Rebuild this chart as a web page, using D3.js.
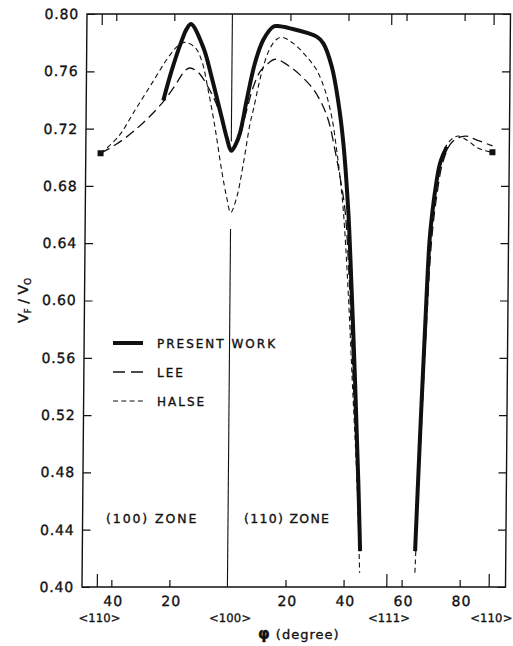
<!DOCTYPE html>
<html>
<head>
<meta charset="utf-8">
<script src="https://cdn.jsdelivr.net/npm/d3@7"></script>
<style>
  body { margin: 0; background: #fff; }
  svg { display: block; }
  svg text { font-family: 'DejaVu Sans', sans-serif; fill: #111; stroke: #111; stroke-width: 0.35px; }
  .axis line { stroke: #111; stroke-width: 1.2; }
</style>
</head>
<body>
<div id="chart"></div>
<script>
// phi in degrees along the axis: negative = (100) zone, measured from <100>
const presentPhi = [-23.55, -20.74, -17.39, -15.7, -14.23, -9.92, -6.94, -3.37, -1.59, 0, 1.64, 2.98, 5.19, 7.94, 10.73, 14.14, 15.6, 19.9, 29.1, 31.4, 34.4, 36.8, 38.6, 40.5, 41.2, 43.35, 44.79, 45.6]
const presentV = [0.7397, 0.7606, 0.7814, 0.7896, 0.793, 0.7766, 0.7557, 0.7277, 0.7137, 0.7045, 0.7095, 0.717, 0.74, 0.766, 0.782, 0.7912, 0.7916, 0.79, 0.7842, 0.7795, 0.7632, 0.7379, 0.71, 0.6628, 0.637, 0.544, 0.473, 0.425]
const presentPhi2 = [64.55, 65.9, 67.3, 68.6, 69.5, 70.4, 72.0, 74.3]
const presentV2 = [0.425, 0.505, 0.58, 0.642, 0.662, 0.677, 0.696, 0.7074]

const leePhi = [-45, -40.06, -33.2, -24.1, -19.56, -16.16, -14.45, -11.57, -8.08, -5.73, -3.37, -1.6, 0, 1.64, 2.98, 5.22, 7.43, 9.69, 12.52, 14.82, 20.0, 26.96, 30.45, 33.37, 35.76, 37.57, 39.4, 40.9, 42.6, 44.5, 45.6]
const leeV = [0.7028, 0.7085, 0.7189, 0.7374, 0.7501, 0.7605, 0.7623, 0.7592, 0.7487, 0.7394, 0.727, 0.713, 0.705, 0.7085, 0.715, 0.733, 0.7492, 0.7597, 0.7656, 0.7684, 0.7632, 0.7503, 0.7398, 0.7258, 0.7048, 0.6861, 0.6628, 0.62, 0.55, 0.475, 0.425]
const leePhi2 = [64.55, 66.1, 67.6, 69.3, 71.0, 73.0, 76.0, 80.5, 84.6, 90]
const leeV2 = [0.425, 0.5, 0.575, 0.642, 0.674, 0.697, 0.7105, 0.7148, 0.712, 0.7079]

const halsePhi = [-45, -38.95, -33.27, -27.6, -21.96, -18.55, -16.25, -12.78, -10.44, -8.07, -5.65, -3.21, -1.41, 0, 2.03, 4.21, 6.4, 7.5, 9.15, 10.81, 13.06, 15.34, 17.06, 21.08, 25.74, 29.22, 32.14, 34.53, 36.35, 37.57, 38.8, 40.6, 42.5, 44.4, 45.5]
const halseV = [0.7028, 0.7143, 0.7328, 0.7514, 0.7698, 0.778, 0.7802, 0.7767, 0.7674, 0.7464, 0.7207, 0.6905, 0.6718, 0.6613, 0.672, 0.6955, 0.7235, 0.7332, 0.7494, 0.7633, 0.7761, 0.7824, 0.7838, 0.7795, 0.7701, 0.7607, 0.7467, 0.7281, 0.7048, 0.6861, 0.6628, 0.61, 0.54, 0.47, 0.41]
const halsePhi2 = [64.55, 65.5, 66.8, 68.0, 69.3, 71.0, 73.3, 75.8, 78.2, 81.5, 84.5, 87.5, 90]
const halseV2 = [0.41, 0.47, 0.55, 0.622, 0.66, 0.688, 0.705, 0.7125, 0.7148, 0.7115, 0.707, 0.7045, 0.7035]

// end points at <110>
const markerPhi = [-45, 90]
const markerV = [0.7028, 0.7035]

// axis ticks
const yTicks = [0.40, 0.44, 0.48, 0.52, 0.56, 0.60, 0.64, 0.68, 0.72, 0.76, 0.80]
const xTicks = [-40, -20, 20, 40, 60, 80]
const dirTicks = [-45, 54.74, 90]
const dirLabelPhi = [-45, 0, 54.74, 90]
const dirLabels = ['<110>', '<100>', '<111>', '<110>']

// <100> line is broken where the curves dip
const vLineGaps = [[0.80, 0.711], [0.650, 0.40]]

const legendNames = ['PRESENT WORK', 'LEE', 'HALSE']

function draw() {
  let dimensions = {
    width: 513,
    height: 646,
    margin: { top: 14, bottom: 59, left: 84.5, right: 5 }
  }
  dimensions.ctrWidth = dimensions.width - dimensions.margin.left - dimensions.margin.right
  dimensions.ctrHeight = dimensions.height - dimensions.margin.top - dimensions.margin.bottom

  const svg = d3.select('#chart')
    .append('svg')
    .attr('width', dimensions.width)
    .attr('height', dimensions.height)

  // the scanned figure leans a little, top to the right
  const page = svg.append('g')
    .attr('transform', 'translate(0,300) skewX(-0.5) translate(0,-300)')

  const ctr = page.append('g')
    .attr('transform', `translate(${dimensions.margin.left},${dimensions.margin.top})`)

  const xScale = d3.scaleLinear()
    .domain([-50.1, 95.8])
    .range([0, dimensions.ctrWidth])

  const yScale = d3.scaleLinear()
    .domain([0.40, 0.80])
    .range([dimensions.ctrHeight, 0])

  const zip = (xs, ys) => xs.map((x, i) => [x, ys[i]])

  const line = d3.line()
    .x(d => xScale(d[0]))
    .y(d => yScale(d[1]))
    .curve(d3.curveCatmullRom.alpha(0.5))

  // frame
  ctr.append('rect')
    .attr('width', dimensions.ctrWidth)
    .attr('height', dimensions.ctrHeight)
    .attr('fill', 'none')
    .attr('stroke', '#111')
    .attr('stroke-width', 1.4)

  // <100> vertical line
  ctr.selectAll('.vline')
    .data(vLineGaps)
    .join('line')
    .attr('x1', xScale(0)).attr('x2', xScale(0))
    .attr('y1', d => yScale(d[0]))
    .attr('y2', d => yScale(d[1]))
    .attr('stroke', '#111')
    .attr('stroke-width', 1.1)

  // y axes
  const yAxis = d3.axisLeft(yScale)
    .tickValues(yTicks)
    .tickSize(-8)
    .tickPadding(8)
    .tickFormat(d3.format('.2f'))
  ctr.append('g').classed('axis', true)
    .call(yAxis)
    .call(g => g.select('.domain').remove())
    .selectAll('text').style('font-size', '14px').style('letter-spacing', '0.8px')

  ctr.append('g').classed('axis', true)
    .attr('transform', `translate(${dimensions.ctrWidth},0)`)
    .call(d3.axisRight(yScale).tickValues(yTicks).tickSize(-8).tickFormat(''))
    .call(g => g.select('.domain').remove())

  // x axes
  const xAxis = d3.axisBottom(xScale)
    .tickValues(xTicks)
    .tickSize(-7)
    .tickPadding(9)
    .tickFormat(d => Math.abs(d))
  ctr.append('g').classed('axis', true)
    .attr('transform', `translate(0,${dimensions.ctrHeight})`)
    .call(xAxis)
    .call(g => g.select('.domain').remove())
    .selectAll('text').attr('dx', 1.5).style('font-size', '14px').style('letter-spacing', '1px')

  ctr.append('g').classed('axis', true)
    .attr('transform', `translate(0,${dimensions.ctrHeight})`)
    .call(d3.axisBottom(xScale).tickValues(dirTicks).tickSize(-13).tickFormat(''))
    .call(g => g.select('.domain').remove())

  ctr.append('g').classed('axis', true)
    .attr('transform', `translate(0,${dimensions.ctrHeight})`)
    .call(d3.axisBottom(xScale).tickValues(dirLabelPhi).tickSize(0).tickPadding(27)
      .tickFormat((d, i) => dirLabels[i]))
    .call(g => g.select('.domain').remove())
    .selectAll('text').attr('dx', 2.5).style('font-size', '11.5px').style('letter-spacing', '0.2px')

  ctr.append('g').classed('axis', true)
    .call(d3.axisTop(xScale).tickValues(xTicks).tickSize(-7).tickFormat(''))
    .call(g => g.select('.domain').remove())
  ctr.append('g').classed('axis', true)
    .call(d3.axisTop(xScale).tickValues(dirTicks).tickSize(-11).tickFormat(''))
    .call(g => g.select('.domain').remove())

  // curves
  const series = [
    { name: 'present', parts: [zip(presentPhi, presentV), zip(presentPhi2, presentV2)], width: 4, dash: null },
    { name: 'lee', parts: [zip(leePhi, leeV), zip(leePhi2, leeV2)], width: 1.3, dash: '10,5' },
    { name: 'halse', parts: [zip(halsePhi, halseV), zip(halsePhi2, halseV2)], width: 1.1, dash: '5,3.5' }
  ]

  series.forEach(s => {
    ctr.selectAll(`.${s.name}`)
      .data(s.parts)
      .join('path')
      .attr('class', s.name)
      .attr('d', line)
      .attr('fill', 'none')
      .attr('stroke', '#111')
      .attr('stroke-width', s.width)
      .attr('stroke-linejoin', 'round')
      .attr('stroke-dasharray', s.dash)
  })

  ctr.selectAll('.marker')
    .data(zip(markerPhi, markerV))
    .join('rect')
    .attr('x', d => xScale(d[0]) - 3)
    .attr('y', d => yScale(d[1]) - 3)
    .attr('width', 6)
    .attr('height', 6)
    .attr('fill', '#111')

  // legend
  const legend = svg.append('g')
  legendNames.forEach((name, i) => {
    const y = 343 + i * 29
    legend.append('line')
      .attr('x1', 113).attr('x2', 143)
      .attr('y1', y).attr('y2', y)
      .attr('stroke', '#111')
      .attr('stroke-width', series[i].width)
      .attr('stroke-dasharray', i === 1 ? '12,6' : i === 2 ? '5,3.3' : null)
    legend.append('text')
      .attr('x', 157).attr('y', y + 4.5)
      .style('font-size', '12px')
      .style('letter-spacing', '2px')
      .text(name)
  })

  // zone labels
  svg.append('text')
    .attr('x', 106).attr('y', 523)
    .style('font-size', '12.5px').style('letter-spacing', '1.9px')
    .text('(100) ZONE')
  svg.append('text')
    .attr('x', 244).attr('y', 523)
    .style('font-size', '12.5px').style('letter-spacing', '1.3px')
    .text('(110) ZONE')

  // axis titles
  const xTitle = svg.append('text')
    .attr('x', 258).attr('y', 639)
    .style('font-size', '13px').style('letter-spacing', '1px')
  xTitle.append('tspan').style('font-weight', 'bold').style('font-size', '15px').text('φ')
  xTitle.append('tspan').text(' (degree)')

  const yTitle = svg.append('text')
    .attr('transform', 'translate(28,323) rotate(-90)')
    .style('font-size', '14px')
  yTitle.append('tspan').text('V')
  yTitle.append('tspan').attr('dy', 3).style('font-size', '9px').text('F')
  yTitle.append('tspan').attr('dy', -3).text(' / V')
  yTitle.append('tspan').attr('dy', 3).style('font-size', '9px').text('O')
}

draw()
</script>
</body>
</html>
